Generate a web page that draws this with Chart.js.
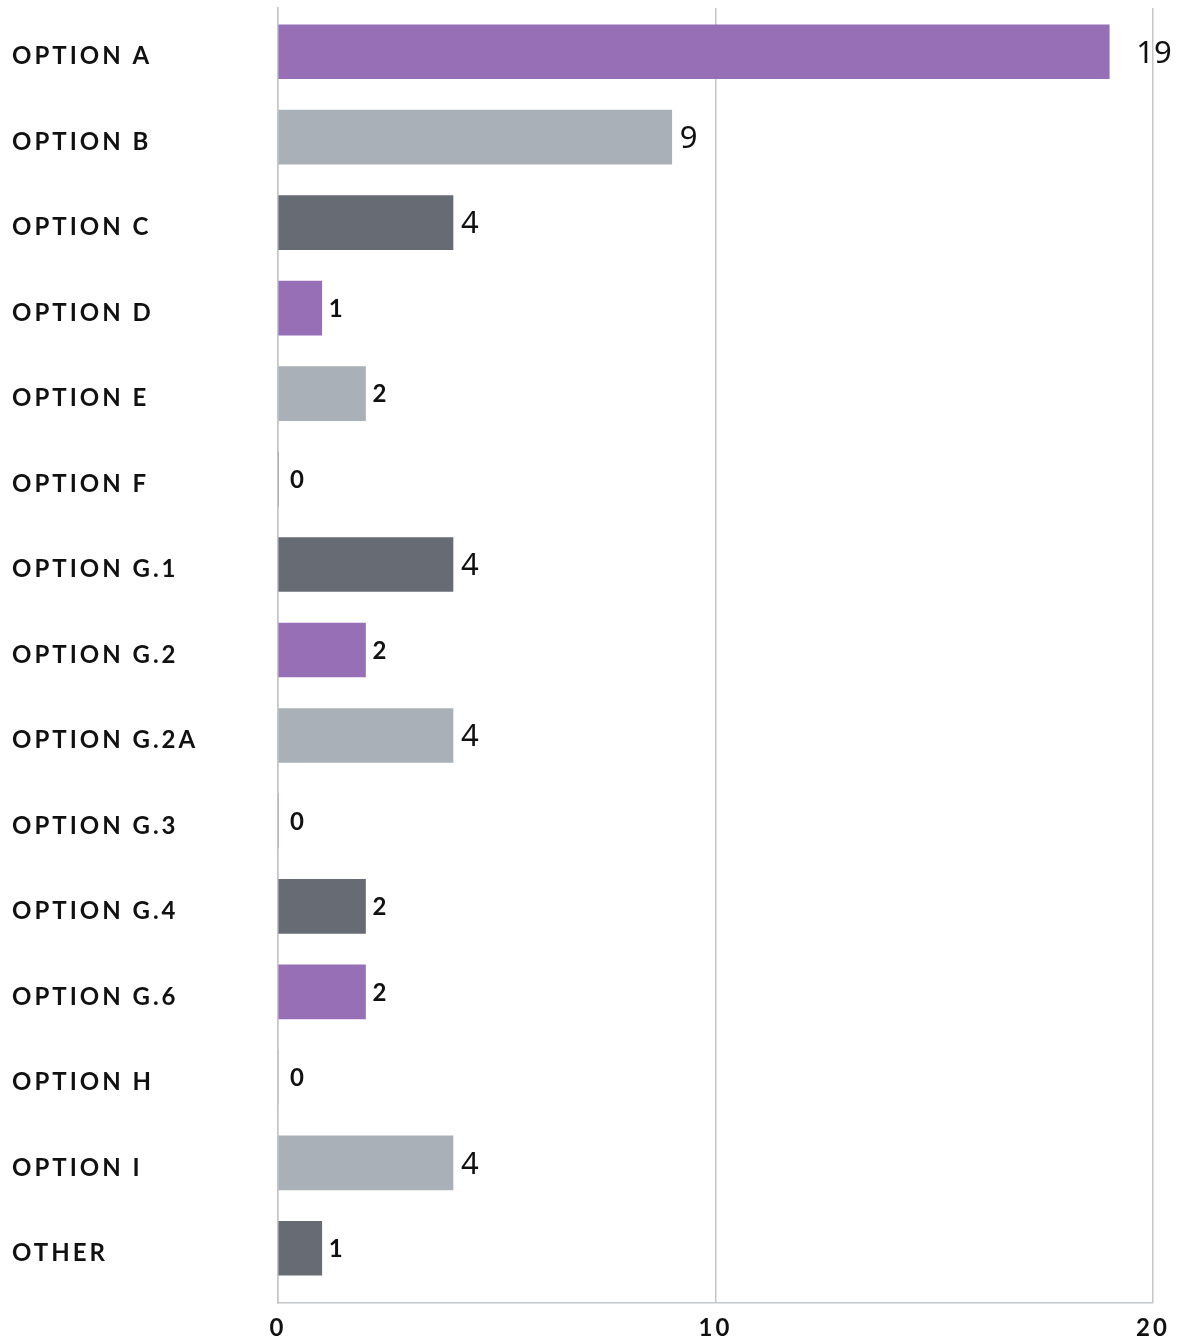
<!DOCTYPE html>
<html>
<head>
<meta charset="utf-8">
<script src="https://cdn.jsdelivr.net/npm/chart.js@4/dist/chart.umd.min.js"></script>
<style>
  html, body { margin: 0; padding: 0; background: #fff; }
  #wrap { width: 1178px; height: 1342px; position: relative; }
</style>
</head>
<body>
<div id="wrap"><canvas id="c"></canvas></div>
<script>
const categories = ["OPTION A", "OPTION B", "OPTION C", "OPTION D", "OPTION E", "OPTION F", "OPTION G.1", "OPTION G.2", "OPTION G.2A", "OPTION G.3", "OPTION G.4", "OPTION G.6", "OPTION H", "OPTION I", "OTHER"];
const values = [19, 9, 4, 1, 2, 0, 4, 2, 4, 0, 2, 2, 0, 4, 1];
const barColors = ["#966fb6", "#a9b0b7", "#676b73", "#966fb6", "#a9b0b7", "#676b73", "#676b73", "#966fb6", "#a9b0b7", "#966fb6", "#676b73", "#966fb6", "#a9b0b7", "#a9b0b7", "#676b73"];
const bigLabelValues = [19, 9, 4];
const xTicks = [0, 10, 20];

const LETTER = '3px';
const spacingPlugin = {
  id: 'spacing',
  beforeInit(chart) { chart.ctx.letterSpacing = LETTER; },
  beforeUpdate(chart) { chart.ctx.letterSpacing = LETTER; },
  beforeDraw(chart) { chart.ctx.letterSpacing = LETTER; },
  // category band spans slightly less than the full plot height in the reference
  afterLayout(chart) {
    const y = chart.scales.y;
    const top = chart.chartArea.top + 1;
    const bottom = chart.chartArea.bottom - 12;
    y._startPixel = top;
    y._endPixel = bottom;
    y._length = bottom - top;
    if (!y._shiftedLabels) {
      const orig = Object.getPrototypeOf(y).drawLabels;
      y.drawLabels = function (area) {
        this.ctx.save();
        this.ctx.translate(0, 5);
        orig.call(this, area);
        this.ctx.restore();
      };
      y._shiftedLabels = true;
    }
  }
};

const valueLabels = {
  id: 'valueLabels',
  afterDatasetsDraw(chart) {
    const ctx = chart.ctx;
    const meta = chart.getDatasetMeta(0);
    ctx.save();
    ctx.fillStyle = '#111';
    ctx.textBaseline = 'middle';
    ctx.textAlign = 'left';
    meta.data.forEach((el, i) => {
      const v = values[i];
      const big = bigLabelValues.includes(v);
      ctx.letterSpacing = big ? '0px' : '1px';
      ctx.font = big ? '400 31px "Noto Sans"' : '700 24px Lato';
      let gap = 7;
      if (v === 0) gap = 12;
      else if (v >= 10) gap = 27;
      else if (big) gap = 8;
      ctx.fillText(String(v), el.x + gap, el.y + (big ? 2 : 1));
    });
    ctx.restore();
  }
};

new Chart(document.getElementById('c'), {
  type: 'bar',
  data: {
    labels: categories,
    datasets: [{
      data: values,
      backgroundColor: barColors,
      borderWidth: 0,
      barThickness: 54
    }]
  },
  options: {
    indexAxis: 'y',
    responsive: true,
    maintainAspectRatio: false,
    animation: false,
    layout: { padding: { left: 12, top: 8, right: 25, bottom: 0 } },
    plugins: { legend: { display: false }, tooltip: { enabled: false } },
    scales: {
      x: {
        min: 0, max: 20,
        afterBuildTicks(axis) { axis.ticks = xTicks.map(v => ({ value: v })); },
        afterFit(axis) { axis.height = 39; axis.paddingLeft = 0; axis.paddingRight = 0; },
        grid: { color: '#c3c6ca', lineWidth: 1.5, drawTicks: false },
        border: { color: '#c3c6ca', width: 1.5 },
        ticks: {
          padding: 11,
          color: '#111',
          font: { family: 'Lato', weight: '700', size: 24 }
        }
      },
      y: {
        afterFit(axis) { axis.width = 266; axis.paddingTop = 0; axis.paddingBottom = 0; },
        grid: { display: false, drawTicks: false },
        border: { color: '#c3c6ca', width: 1.5 },
        ticks: {
          crossAlign: 'far',
          padding: 0,
          color: '#111',
          font: { family: 'Lato', weight: '700', size: 24 }
        }
      }
    }
  },
  plugins: [spacingPlugin, valueLabels]
});
</script>
</body>
</html>
